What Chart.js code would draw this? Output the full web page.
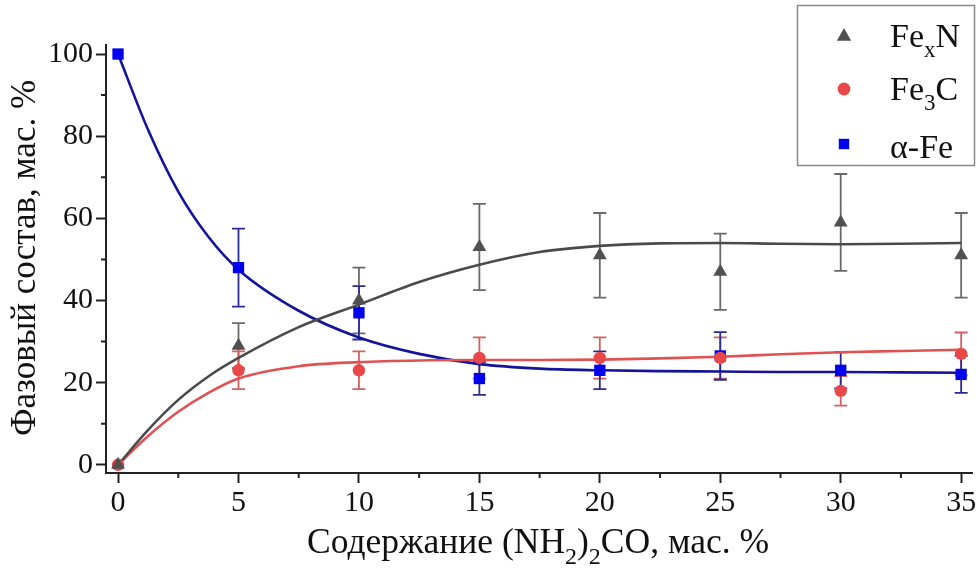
<!DOCTYPE html>
<html>
<head>
<meta charset="utf-8">
<title>Фазовый состав</title>
<script src="https://cdn.jsdelivr.net/npm/chart.js@4/dist/chart.umd.min.js"></script>
<style>
  html, body { margin: 0; padding: 0; background: #fff; }
  canvas { display: block; }
</style>
</head>
<body>
<canvas id="chartPhase" width="980" height="570"></canvas>
<script>
// ─── Данные ───────────────────────────────────────────────────
const UREA = [0, 5, 10, 15, 20, 25, 30, 35];

const FEXN     = [0, 29, 40, 53, 51, 47, 59, 51];
const FEXN_ERR = [0, 5.5, 8, 10.5, 10.3, 9.3, 11.8, 10.3];
const FE3C     = [0, 23, 23, 26, 26, 26, 18, 27];
const FE3C_ERR = [0, 4.6, 4.6, 5, 5, 5, 3.6, 5.2];
const AFE      = [100, 48, 37, 21, 23, 26.5, 23, 22];
const AFE_ERR  = [0, 9.5, 6.5, 4, 4.6, 5.8, 4.4, 4.5];

// сглаживающие кривые (аппроксимация)
const FIT_X    = [0, 1.25, 2.5, 3.75, 5, 7.5, 10, 12.5, 15, 17.5, 20, 22.5, 25, 27.5, 30, 32.5, 35];
const FEXN_FIT = [0, 8.5, 15.8, 21.5, 26, 33.5, 39, 44.5, 48.7, 51.8, 53.3, 53.9, 54, 53.8, 53.7, 53.8, 54];
const FE3C_FIT = [0, 7, 12.9, 17.5, 21, 24, 25, 25.4, 25.5, 25.5, 25.6, 25.9, 26.3, 26.9, 27.4, 27.7, 28];
const AFE_FIT  = [100, 81.5, 66.5, 55.5, 47.5, 37.5, 31, 27, 24.5, 23.4, 23, 22.8, 22.7, 22.6, 22.6, 22.5, 22.4];

const X_TICKS = [0, 5, 10, 15, 20, 25, 30, 35];
const X_MINOR = [2.5, 7.5, 12.5, 17.5, 22.5, 27.5, 32.5];
const Y_TICKS = [0, 20, 40, 60, 80, 100];
const Y_MINOR = [10, 30, 50, 70, 90];

// ─── Стиль ────────────────────────────────────────────────────
const FONT = "'Liberation Serif', 'Times New Roman', serif";
const COL = {
  grey:    '#505050', greyLine: '#4a4a4a', greyErr: '#6a6a6a',
  red:     '#e84848', redLine:  '#e05252', redErr:  '#d46060',
  blue:    '#0000ee', blueLine: '#14149a', blueErr: '#2c2c96',
  axis:    '#222',
};

const pts = (xs, ys) => xs.map((x, i) => ({ x, y: ys[i] }));

// текст с нижними индексами: parts = [[текст, sub?], ...]
function drawRich(ctx, parts, x, y, size, align) {
  const subSize = Math.round(size * 0.68);
  let total = 0;
  const widths = parts.map(([t, sub]) => {
    ctx.font = `${sub ? subSize : size}px ${FONT}`;
    const w = ctx.measureText(t).width;
    total += w;
    return w;
  });
  let cx = align === 'center' ? x - total / 2 : x;
  ctx.textBaseline = 'alphabetic';
  ctx.textAlign = 'left';
  parts.forEach(([t, sub], i) => {
    ctx.font = `${sub ? subSize : size}px ${FONT}`;
    ctx.fillText(t, cx, sub ? y + size * 0.3 : y);
    cx += widths[i];
  });
}

function marker(ctx, style, x, y, r, color) {
  ctx.fillStyle = color;
  ctx.beginPath();
  if (style === 'triangle') {
    ctx.moveTo(x, y - r);
    ctx.lineTo(x + r * 0.9, y + r * 0.6);
    ctx.lineTo(x - r * 0.9, y + r * 0.6);
    ctx.closePath();
  } else if (style === 'circle') {
    ctx.arc(x, y, r * 0.8, 0, Math.PI * 2);
  } else {
    ctx.rect(x - r * 0.65, y - r * 0.65, r * 1.3, r * 1.3);
  }
  ctx.fill();
}

// ─── Плагин: планки погрешностей, малые штрихи, подписи, легенда ──
const decor = {
  id: 'decor',
  beforeDatasetsDraw(chart) {
    const { ctx, scales: { x, y } } = chart;
    const series = [
      [FEXN, FEXN_ERR, COL.greyErr],
      [FE3C, FE3C_ERR, COL.redErr],
      [AFE, AFE_ERR, COL.blueErr],
    ];
    ctx.save();
    ctx.lineWidth = 1.8;
    series.forEach(([vals, errs, color]) => {
      ctx.strokeStyle = color;
      UREA.forEach((u, i) => {
        if (!errs[i]) return;
        const px = x.getPixelForValue(u);
        const top = y.getPixelForValue(vals[i] + errs[i]);
        const bot = y.getPixelForValue(vals[i] - errs[i]);
        ctx.beginPath();
        ctx.moveTo(px, top); ctx.lineTo(px, bot);
        ctx.moveTo(px - 6.5, top); ctx.lineTo(px + 6.5, top);
        ctx.moveTo(px - 6.5, bot); ctx.lineTo(px + 6.5, bot);
        ctx.stroke();
      });
    });
    ctx.restore();
  },
  afterDraw(chart) {
    const { ctx, chartArea: area, scales: { x, y } } = chart;
    ctx.save();

    // малые штрихи
    ctx.strokeStyle = COL.axis;
    ctx.lineWidth = 2;
    ctx.beginPath();
    X_MINOR.forEach(v => {
      const px = x.getPixelForValue(v);
      ctx.moveTo(px, area.bottom); ctx.lineTo(px, area.bottom + 5);
    });
    Y_MINOR.forEach(v => {
      const py = y.getPixelForValue(v);
      ctx.moveTo(area.left, py); ctx.lineTo(area.left - 5, py);
    });
    ctx.stroke();

    // подписи осей
    ctx.fillStyle = '#111';
    drawRich(ctx, [['Содержание (NH', false], ['2', true], [')', false], ['2', true], ['CO, мас. %', false]],
      538, 553, 35.5, 'center');

    ctx.save();
    ctx.translate(26, 258);
    ctx.rotate(-Math.PI / 2);
    ctx.font = `35px ${FONT}`;
    ctx.textAlign = 'center';
    ctx.textBaseline = 'middle';
    ctx.fillText('Фазовый состав, мас. %', 0, 0);
    ctx.restore();

    // легенда
    ctx.strokeStyle = '#8a8a8a';
    ctx.lineWidth = 1.5;
    ctx.strokeRect(797.5, 5.5, 177, 160);
    const rows = [
      ['triangle', COL.grey, [['Fe', false], ['x', true], ['N', false]], 36, 47],
      ['circle', COL.red, [['Fe', false], ['3', true], ['C', false]], 89, 100],
      ['rect', COL.blue, [['α-Fe', false]], 144, 158],
    ];
    rows.forEach(([style, color, parts, cy, base]) => {
      marker(ctx, style, 844, cy, 8, color);
      ctx.fillStyle = '#111';
      drawRich(ctx, parts, 890, base, 34, 'left');
    });
    ctx.restore();
  }
};

// ─── Построение графика ───────────────────────────────────────
const fitLine = (data, color) => ({
  type: 'line', data, borderColor: color, borderWidth: 2.6,
  pointRadius: 0, cubicInterpolationMode: 'monotone', fill: false, order: 5,
});
const dots = (data, style, radius, color) => ({
  type: 'scatter', data, pointStyle: style, pointRadius: radius,
  backgroundColor: color, borderColor: color, borderWidth: 0, order: 1,
});

new Chart(document.getElementById('chartPhase'), {
  type: 'scatter',
  data: {
    datasets: [
      fitLine(pts(FIT_X, FEXN_FIT), COL.greyLine),
      fitLine(pts(FIT_X, FE3C_FIT), COL.redLine),
      fitLine(pts(FIT_X, AFE_FIT), COL.blueLine),
      dots(pts(UREA, FEXN), 'triangle', 8, COL.grey),
      dots(pts(UREA, FE3C), 'circle', 6.2, COL.red),
      dots(pts(UREA, AFE), 'rect', 8, COL.blue),
    ]
  },
  options: {
    responsive: false,
    animation: false,
    devicePixelRatio: 1,
    layout: { padding: { top: 45, right: 7, left: 0, bottom: 0 } },
    plugins: { legend: { display: false }, tooltip: { enabled: false } },
    scales: {
      x: {
        type: 'linear', min: -0.5, max: 35.45,
        afterBuildTicks: s => { s.ticks = X_TICKS.map(value => ({ value })); },
        afterFit: s => { s.height = 97; },
        grid: { drawOnChartArea: false, drawTicks: true, tickLength: 10, tickWidth: 2, tickColor: COL.axis },
        border: { color: COL.axis, width: 2 },
        ticks: { font: { family: FONT, size: 30 }, color: '#111', padding: 2, maxRotation: 0 },
      },
      y: {
        type: 'linear', min: -2, max: 102.2,
        afterBuildTicks: s => { s.ticks = Y_TICKS.map(value => ({ value })); },
        afterFit: s => { s.width = 106; },
        grid: { drawOnChartArea: false, drawTicks: true, tickLength: 10, tickWidth: 2, tickColor: COL.axis },
        border: { color: COL.axis, width: 2 },
        ticks: { font: { family: FONT, size: 30 }, color: '#111', padding: 3 },
      }
    }
  },
  plugins: [decor]
});
</script>
</body>
</html>
